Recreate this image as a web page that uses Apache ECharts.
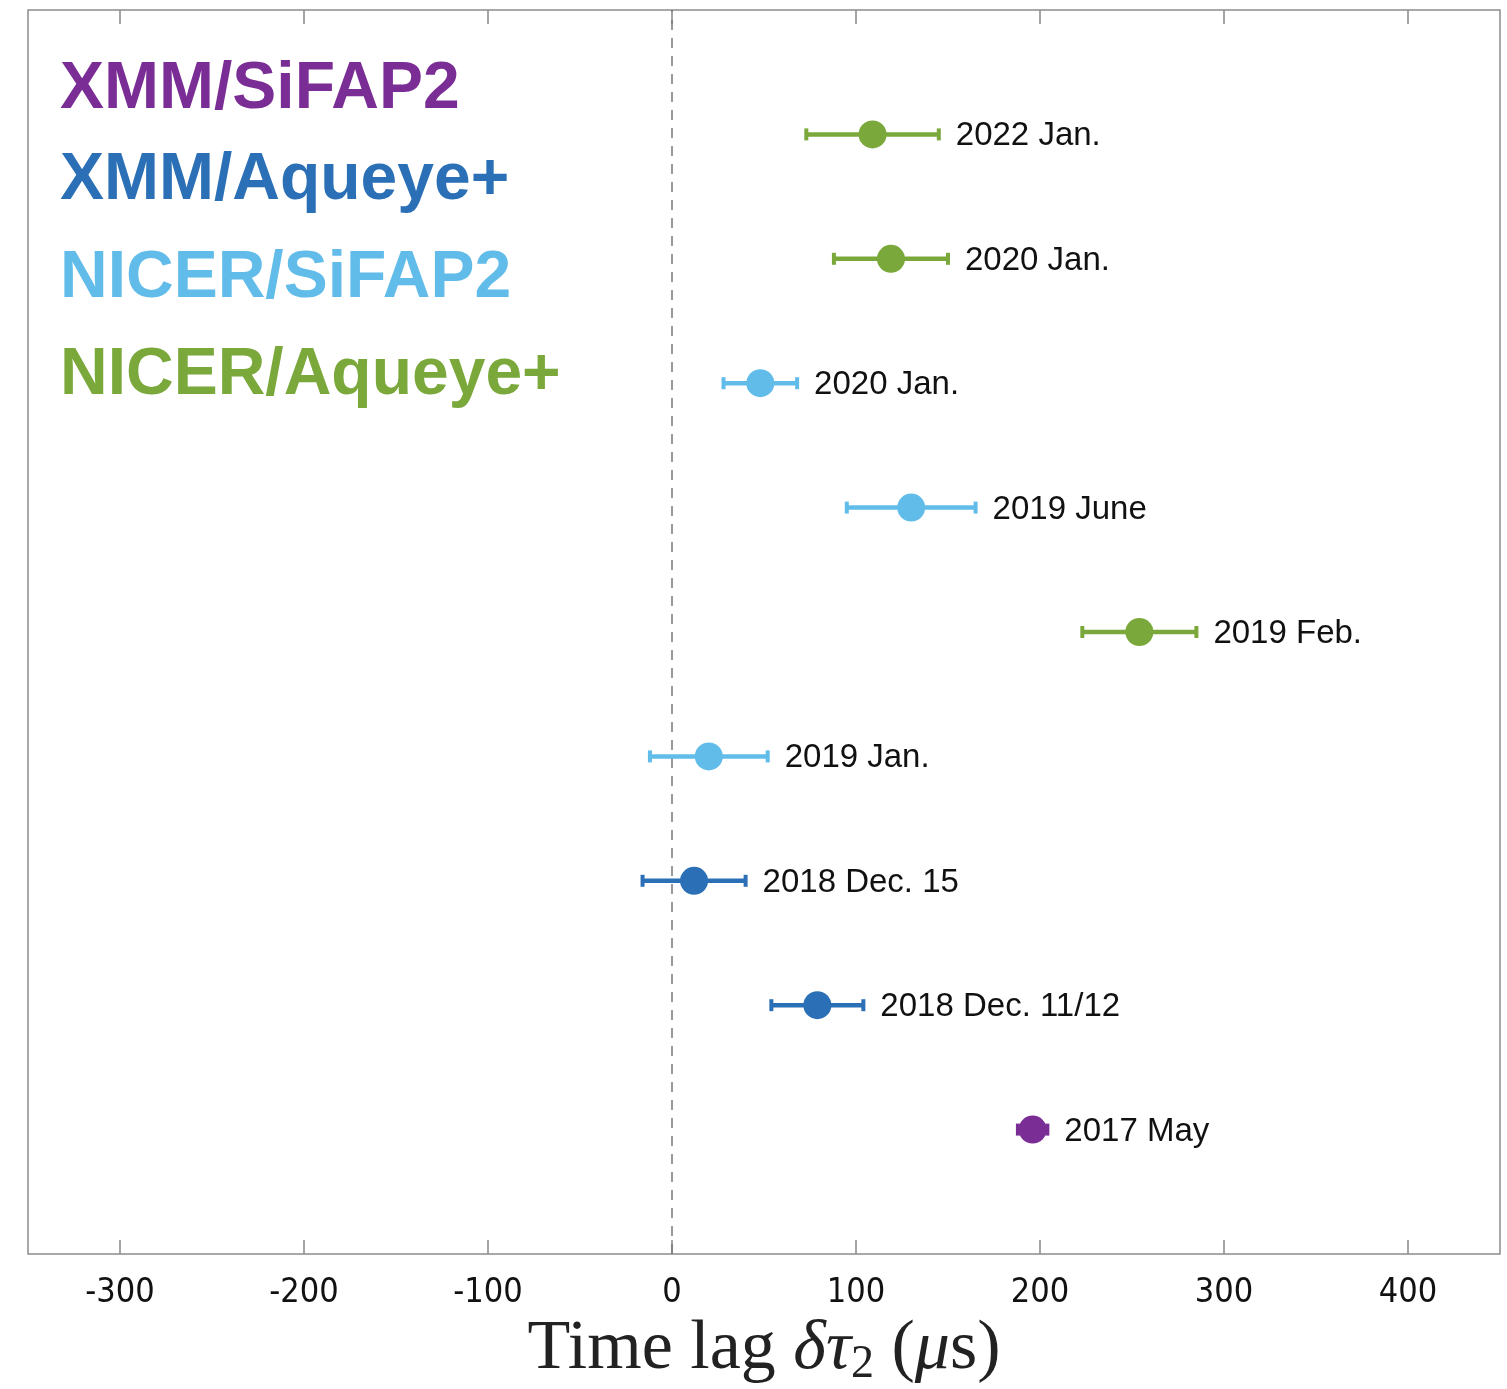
<!DOCTYPE html>
<html>
<head>
<meta charset="utf-8">
<script src="https://cdn.jsdelivr.net/npm/echarts@6/dist/echarts.min.js"></script>
<style>
html,body{margin:0;padding:0;background:#fff;}
#c{width:1507px;height:1389px;}
</style>
</head>
<body>
<div id="c"></div>
<script>
// ---- data ----
const labels = ['2017 May','2018 Dec. 11/12','2018 Dec. 15','2019 Jan.','2019 Feb.','2019 June','2020 Jan.','2020 Jan.','2022 Jan.'];
const rows = [1,2,3,4,5,6,7,8,9];
const lags = [196, 79, 12, 20, 254, 130, 48, 119, 109];
const errs = [8, 25, 28, 32, 31, 35, 20, 31, 36];
const groupOf = [0, 1, 1, 2, 3, 2, 2, 3, 3];
const groupNames = ['XMM/SiFAP2','XMM/Aqueye+','NICER/SiFAP2','NICER/Aqueye+'];
const groupColors = ['#7B2D96','#2B70B6','#62BCEA','#7AA83B'];
const xTicks = [-300,-200,-100,0,100,200,300,400];

const pts = rows.map((r,i)=>[lags[i], r, errs[i], groupOf[i]]);

const chart = echarts.init(document.getElementById('c'));

const legendY = [95, 186, 284, 381];
const graphics = groupNames.map((n,i)=>({
  type:'text', left:60, top:legendY[i]-38,
  style:{text:n, fill:groupColors[i], font:'bold 66px "Liberation Sans", Arial, sans-serif'}
}));

function renderItem(params, api){
  const x = api.value(0), y = api.value(1), e = api.value(2), g = api.value(3);
  const c = groupColors[g];
  const pL = api.coord([x-e,y]), pR = api.coord([x+e,y]), pC = api.coord([x,y]);
  return {
    type:'group',
    children:[
      {type:'line', shape:{x1:pL[0],y1:pL[1],x2:pR[0],y2:pR[1]}, style:{stroke:c,lineWidth:4.5}},
      {type:'line', shape:{x1:pL[0],y1:pL[1]-6,x2:pL[0],y2:pL[1]+6}, style:{stroke:c,lineWidth:4}},
      {type:'line', shape:{x1:pR[0],y1:pR[1]-6,x2:pR[0],y2:pR[1]+6}, style:{stroke:c,lineWidth:4}},
      {type:'circle', shape:{cx:pC[0],cy:pC[1],r:14}, style:{fill:c}},
      {type:'text', x:pR[0]+17, y:pR[1]+2, style:{text:labels[params.dataIndex], fill:'#111', font:'33px "Liberation Sans", Arial, sans-serif', verticalAlign:'middle', align:'left'}}
    ]
  };
}

const option = {
  animation:false,
  backgroundColor:'#fff',
  grid:{left:28,right:7,top:10,bottom:135,show:true,borderColor:'#8c8c8c',borderWidth:1.5,containLabel:false,outerBoundsMode:'none'},
  xAxis:[{
    type:'value', min:-350, max:450, interval:100, position:'bottom',
    axisLine:{show:false},
    axisTick:{show:true,inside:true,length:14,lineStyle:{color:'#888',width:1.5},customValues:xTicks},
    axisLabel:{show:true,margin:22,color:'#111',fontSize:34,fontFamily:'"Liberation Sans Narrow","Arial Narrow","DejaVu Sans Condensed","Liberation Sans",sans-serif',customValues:xTicks},
    splitLine:{show:false},
    name:'{a|Time lag }{i|δτ}{s|2}{a| (}{i|μ}{a|s)}',
    nameLocation:'middle', nameGap:58,
    nameTextStyle:{rich:{
      a:{fontFamily:'"Liberation Serif","DejaVu Serif",serif',fontSize:70,color:'#222'},
      i:{fontFamily:'"Liberation Serif","DejaVu Serif",serif',fontSize:70,fontStyle:'italic',color:'#222'},
      s:{fontFamily:'"Liberation Serif","DejaVu Serif",serif',fontSize:46,color:'#222',padding:[30,0,0,0]}
    }}
  },{
    type:'value', min:-350, max:450, interval:100, position:'top',
    axisLine:{show:false},
    axisTick:{show:true,inside:true,length:14,lineStyle:{color:'#888',width:1.5},customValues:xTicks},
    axisLabel:{show:false},
    splitLine:{show:false}
  }],
  yAxis:{type:'value',min:0,max:10,axisLine:{show:false},axisTick:{show:false},axisLabel:{show:false},splitLine:{show:false}},
  graphic:graphics,
  series:[
    {type:'line', data:[[0,0],[0,10]], symbol:'none', silent:true,
     lineStyle:{color:'#777',width:1.5,type:[10,8]}, z:1},
    {type:'custom', renderItem:renderItem, data:pts, z:3, encode:{x:0,y:1}}
  ]
};
chart.setOption(option);
</script>
</body>
</html>
